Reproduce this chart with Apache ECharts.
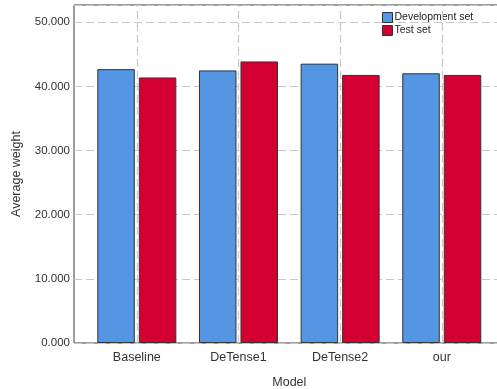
<!DOCTYPE html>
<html><head><meta charset="utf-8">
<script src="https://cdn.jsdelivr.net/npm/echarts@6/dist/echarts.min.js"></script>
<style>html,body{margin:0;padding:0;background:#fff}#c{width:497px;height:389px}</style>
</head><body><div id="c"></div>
<script>
const categories = ['Baseline', 'DeTense1', 'DeTense2', 'our'];
const devSet = [42.7, 42.5, 43.55, 42.05];
const testSet = [41.4, 43.9, 41.8, 41.8];
const seriesNames = ['Development set', 'Test set'];
const yMax = 52.7;

const chart = echarts.init(document.getElementById('c'), null, {renderer: 'canvas'});
const font = 'Liberation Sans, Arial, sans-serif';
const gridDash = {color: '#c8c8c8', width: 1.2, type: [8, 4]};
chart.setOption({
  animation: false,
  textStyle: {fontFamily: font},
  grid: [
    {left: 74, right: -2, top: 5, bottom: 46, show: true, borderColor: '#3a3a3a', borderWidth: 1,
     backgroundColor: 'transparent', containLabel: false, outerBoundsMode: 'none'},
    {left: 86, right: 4.4, top: 5, bottom: 46, containLabel: false, outerBoundsMode: 'none'}
  ],
  legend: {
    orient: 'vertical', left: 377, top: 7, itemWidth: 10, itemHeight: 10, itemGap: 2,
    icon: 'rect', data: seriesNames,
    textStyle: {fontSize: 10.5, color: '#222', fontFamily: font, padding: [0, 0, 0, -3]},
    itemStyle: {borderColor: '#333', borderWidth: 1}
  },
  xAxis: [
    {gridIndex: 0, type: 'value', show: false, min: 0, max: 1},
    {gridIndex: 1, type: 'category', data: categories,
     axisLine: {show: false}, axisTick: {show: false},
     axisLabel: {fontSize: 12.5, color: '#333', margin: 8},
     name: 'Model', nameLocation: 'middle', nameGap: 33,
     nameTextStyle: {fontSize: 12.5, color: '#333'}}
  ],
  yAxis: [
    {gridIndex: 0, type: 'value', min: 0, max: yMax, interval: 10,
     axisLine: {show: false}, axisTick: {show: false},
     axisLabel: {fontSize: 11.5, color: '#333', margin: 4, showMaxLabel: false,
       formatter: v => v.toFixed(3)},
     splitLine: {show: true, lineStyle: gridDash},
     name: 'Average weight', nameLocation: 'middle', nameGap: 51,
     nameTextStyle: {fontSize: 12.5, color: '#333'}},
    {gridIndex: 1, type: 'value', min: 0, max: yMax, show: false}
  ],
  series: [
    {name: 'grid', type: 'line', xAxisIndex: 1, yAxisIndex: 1, data: [], z: 1,
     markLine: {silent: true, symbol: 'none', label: {show: false},
       lineStyle: gridDash, data: categories.map(c => ({xAxis: c}))}},
    {name: seriesNames[0], type: 'bar', xAxisIndex: 1, yAxisIndex: 1, data: devSet,
     barWidth: 37.5, barGap: '10.7%', z: 2,
     itemStyle: {color: '#5596e3', borderColor: '#333', borderWidth: 1}},
    {name: seriesNames[1], type: 'bar', xAxisIndex: 1, yAxisIndex: 1, data: testSet,
     barWidth: 37.5, z: 2,
     itemStyle: {color: '#d50032', borderColor: '#333', borderWidth: 1}}
  ]
});
</script></body></html>
